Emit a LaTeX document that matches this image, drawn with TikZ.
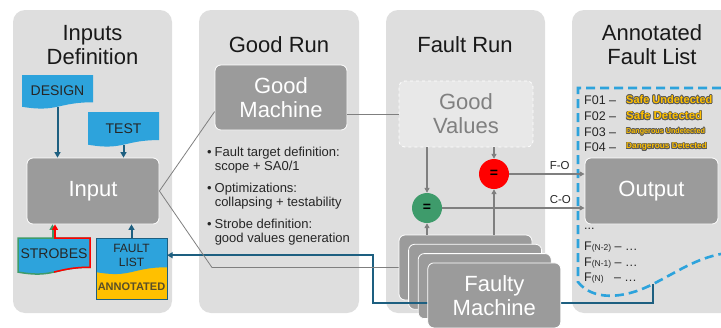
\documentclass[tikz,border=0pt]{standalone}
\usepackage{fontspec}
\setmainfont{Liberation Sans}
\usepackage{contour}
\usetikzlibrary{arrows.meta}

\definecolor{panelgray}{HTML}{DEDEDE}
\definecolor{boxgray}{HTML}{9B9B9B}
\definecolor{docblue}{HTML}{2DA3DC}
\definecolor{darkteal}{HTML}{1D5F80}
\definecolor{flyellow}{HTML}{FFC000}
\definecolor{okgreen}{HTML}{3E9B6B}
\definecolor{linegray}{HTML}{7F7F7F}
\definecolor{valgray}{HTML}{808080}
\definecolor{anntext}{HTML}{594F28}
\definecolor{glowgray}{HTML}{5A5A5A}

\contourlength{0.7pt}

% document shape: x, y (top left), width, height
\newcommand{\docpath}[4]{({#1},{#2}) -- ({#1+#3},{#2}) -- ({#1+#3},{#2+0.802*#4})
  .. controls ({#1+0.5*#3},{#2+0.802*#4}) and ({#1+0.5*#3},{#2+1.1075*#4}) .. ({#1},{#2+0.934*#4}) -- cycle}
\newcommand{\flag}[2]{\contour{glowgray}{\textcolor{flyellow}{\bfseries\fontsize{#1}{#1}\selectfont #2}}}

\begin{document}
\begin{tikzpicture}[x=1pt, y=-1pt,
  panel/.style={fill=panelgray, rounded corners=12pt},
  title/.style={font=\fontsize{22}{24}\selectfont, align=center, text=black!90},
  machine/.style={fill=boxgray, draw=white, line width=0.8pt, rounded corners=6pt,
    text=white, font=\fontsize{22}{24}\selectfont, align=center},
  doctext/.style={font=\fontsize{14}{16}\selectfont, text=black!85},
  notes/.style={font=\fontsize{13}{14}\selectfont, text=black!85, inner sep=0pt},
  feed/.style={darkteal, line width=2pt, -{Triangle[length=5.5pt,width=6pt]}},
  gline/.style={linegray, line width=0.8pt},
  garrow/.style={linegray, line width=1.6pt, -{Triangle[length=5pt,width=5pt]}},
  cmp/.style={circle, minimum size=30pt, inner sep=0pt, font=\bfseries\fontsize{14}{14}\selectfont},
  row/.style={anchor=west, inner sep=0pt, font=\fontsize{12.5}{13}\selectfont, text=black!85},
  afl/.style={docblue, line width=2.6pt, dash pattern=on 9pt off 5pt}]

\useasboundingbox (0,0) rectangle (721,327);
\clip (0,0) rectangle (721,327);

% panels
\fill[panel] (13,10) rectangle (172,313);
\fill[panel] (199,10) rectangle (359,313);
\fill[panel] (386,10) rectangle (545,313);
\fill[panel] (572,10) rectangle (760,313);

\node[title] (tInputs) at (92.5,45) {Inputs\\Definition};
\node[title] (tGood) at (279,45) {Good Run};
\node[title] (tFault) at (465,45) {Fault Run};
\node[title] (tAFL) at (652,45) {Annotated\\Fault List};

% inputs definition
\fill[docblue] \docpath{22}{75}{71}{34};
\node[doctext, minimum width=71pt, minimum height=31.8pt] (design) at (57.5,90.9) {DESIGN};
\fill[docblue] \docpath{88}{112}{71}{35};
\node[doctext, minimum width=71pt, minimum height=32.7pt] (test) at (123.5,128.3) {TEST};
\node[machine, minimum width=132pt, minimum height=66pt] (inputbox) at (93,191) {Input};

\fill[docblue] \docpath{18}{238}{72}{36.5};
\draw[okgreen, line width=1.5pt] \docpath{18}{238}{72}{36.5};
\begin{scope}
  \clip (54,230) rectangle (95,285);
  \draw[red, line width=1.5pt] \docpath{18}{238}{72}{36.5};
\end{scope}
\node[doctext, minimum width=72pt, minimum height=32pt] (strobes) at (54,254) {STROBES};

\fill[flyellow] (96,238) rectangle (167,299);
\fill[docblue] \docpath{96}{238}{71}{36.5};
\draw[darkteal, line width=1pt] (96,238) rectangle (167,299);
\node[anchor=north, align=center, minimum width=71pt, minimum height=34pt,
  font=\fontsize{12}{13.5}\selectfont, text=black!85] (faultlist) at (131.5,238) {FAULT\\LIST};
\node[font=\bfseries\fontsize{11}{13}\selectfont, text=anntext] (flann) at (131.5,287) {ANNOTATED};

\draw[feed] (design.south) -- (design.south |- inputbox.north);
\draw[feed] (test.south) -- (test.south |- inputbox.north);
\draw[feed, okgreen] ([xshift=-1.5pt]strobes.north) -- ([xshift=-1.5pt]strobes.north |- inputbox.south);
\draw[feed, red] ([xshift=1pt]strobes.north) -- ([xshift=1pt]strobes.north |- inputbox.south);
\draw[feed] (faultlist.north) -- (faultlist.north |- inputbox.south);

% good run
\node[machine, minimum width=132pt, minimum height=65pt] (goodmach) at (281,97.5) {Good\\Machine};
\node[notes, anchor=north west] (notes) at (207,146) {%
  \begin{tabular}{@{}l@{\hspace{3pt}}l@{}}
  \textbullet & Fault target definition:\\
   & scope + SA0/1\\[8pt]
  \textbullet & Optimizations:\\
   & collapsing + testability\\[8pt]
  \textbullet & Strobe definition:\\
   & good values generation
  \end{tabular}};

% fault run
\node[machine, fill=panelgray!70!white, dashed, text=valgray, minimum width=134pt, minimum height=66pt] (goodval) at (466,114) {Good\\Values};
\foreach \k in {1,2,3}
  \node[machine, minimum width=133pt, minimum height=65pt] (faulty\k) at ({465.5+9.6*(\k-1)},{267.5+9.3*(\k-1)}) {};

% annotated fault list
\draw[afl] (735,88) -- (578,88) -- (578,282) .. controls (592,300) and (622,300) .. (653,284)
  .. controls (681,270) and (700,255) .. (735,252);
\coordinate (aflbot) at (653,284);
\draw[feed] (aflbot) |- (373,303) |- (faultlist.east);

\node[machine, minimum width=133pt, minimum height=65pt] (faulty4) at (494.3,295.4) {Faulty\\Machine};

\draw[gline] (inputbox.east) -- (goodmach.192);
\draw[gline] (inputbox.east) -- (faulty1.west -| 212,0) -- (faulty1.west);
\draw[gline] (goodmach.east |- goodval.west) -- (goodval.west);

\node[machine, minimum width=133pt, minimum height=66pt] (output) at (651.5,191) {Output};

\node[cmp, fill=red] (cmpF) at (494,174) {=};
\node[cmp, fill=okgreen] (cmpC) at (427,208) {=};
\draw[garrow] (cmpC |- goodval.south) -- (cmpC.north);
\draw[garrow] (cmpF |- goodval.south) -- (cmpF.north);
\draw[garrow] (cmpC |- faulty1.north) -- (cmpC.south);
\draw[garrow] (cmpF |- faulty1.north) -- (cmpF.south);
\draw[garrow] (cmpF.east) -- (cmpF -| output.west) node[pos=0.67, above, text=black!85, font=\fontsize{11.5}{11.5}\selectfont] {F-O};
\draw[garrow] (cmpC.east) -- (cmpC -| output.west) node[pos=0.83, above, text=black!85, font=\fontsize{11.5}{11.5}\selectfont] {C-O};

\node[row] (f01) at (584,100) {F01 --};
\node[row] (f02) at (584,116) {F02 --};
\node[row] (f03) at (584,132) {F03 --};
\node[row] (f04) at (584,147) {F04 --};
\node[row] (s01) at (626,100) {\flag{11}{Safe Undetected}};
\node[row] (s02) at (626,116) {\flag{11.5}{Safe Detected}};
\node[row] (s03) at (626,132) {\flag{7.2}{Dangerous Undetected}};
\node[row] (s04) at (626,147) {\flag{8.3}{Dangerous Detected}};
\node[row] (fdots) at (584,229) {...};
\node[row] (fn2) at (584,247) {F{\fontsize{8.5}{9}\selectfont(N-2)} -- \dots};
\node[row] (fn1) at (584,263) {F{\fontsize{8.5}{9}\selectfont(N-1)} -- \dots};
\node[row] (fn0) at (584,278) {F{\fontsize{8.5}{9}\selectfont(N)}\ \ \ -- \dots};
\end{tikzpicture}
\end{document}
